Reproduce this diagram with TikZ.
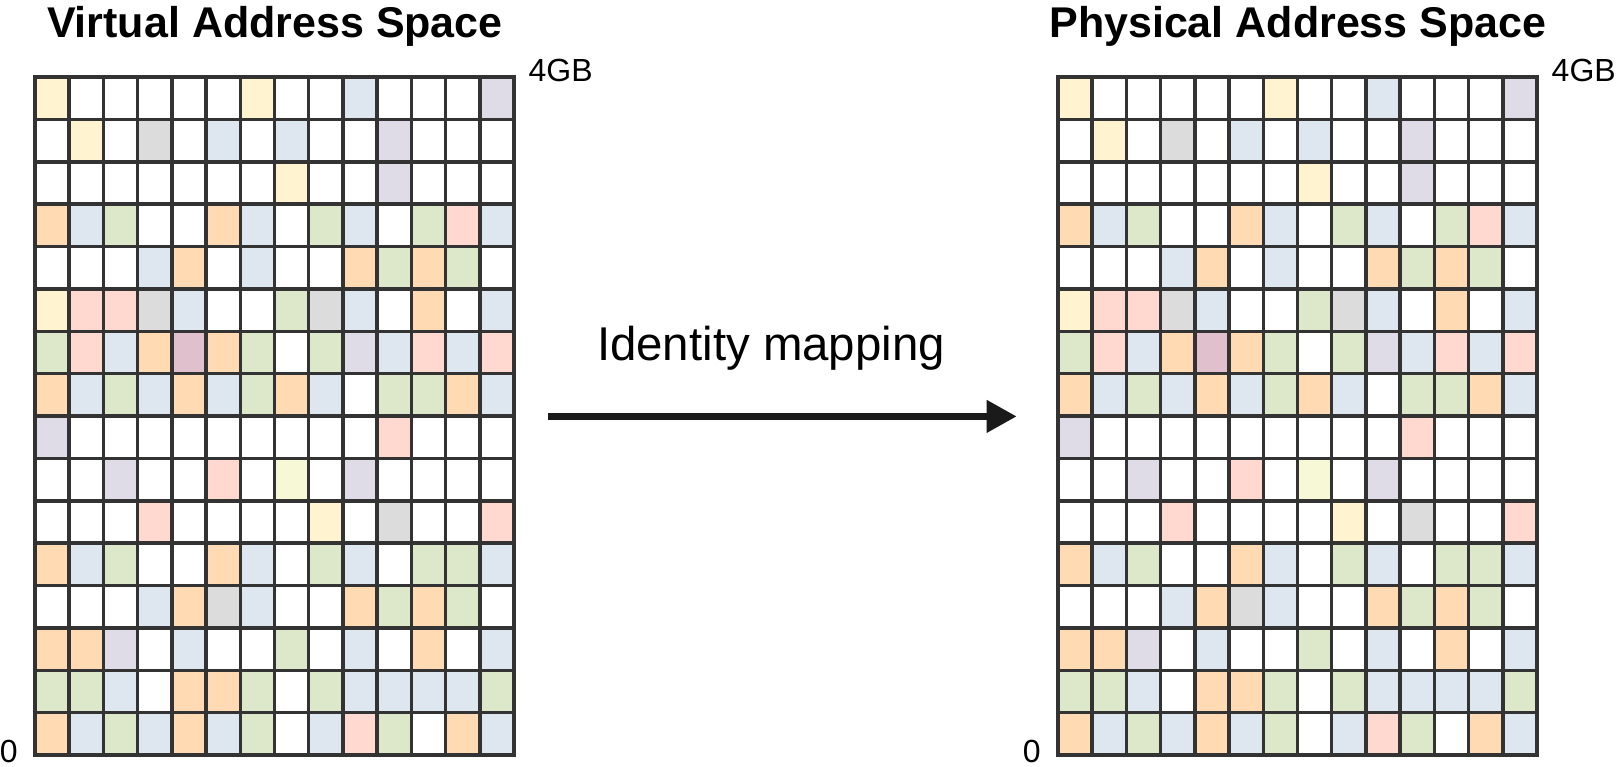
\documentclass[tikz,border=0pt]{standalone}
\usepackage{fontspec}
\setmainfont{Liberation Sans}
\usetikzlibrary{arrows.meta,positioning,calc}

\definecolor{cW}{HTML}{FFFFFF}
\definecolor{cY}{HTML}{FFF4CF}
\definecolor{cB}{HTML}{DEE6F0}
\definecolor{cG}{HTML}{DDE7CA}
\definecolor{cO}{HTML}{FFDAB2}
\definecolor{cR}{HTML}{FFD8D0}
\definecolor{cL}{HTML}{DFDCE8}
\definecolor{cD}{HTML}{DCDCDC}
\definecolor{cM}{HTML}{E0C0CC}
\definecolor{cV}{HTML}{F6F8D6}
\definecolor{gridgray}{HTML}{333333}
\definecolor{arrowblack}{HTML}{1A1A1A}

\begin{document}
\begin{tikzpicture}[x=0.5pt, y=-0.5pt]
        \tikzstyle{space} = [rectangle, inner sep=0pt, minimum width=239.5pt, minimum height=339pt, anchor=north west]
        \tikzstyle{cell} = [draw=gridgray, line width=1.75pt]
        \tikzstyle{title} = [font=\bfseries\fontsize{21.5}{24}\selectfont, anchor=base]
        \tikzstyle{bound} = [font=\fontsize{16}{18}\selectfont, inner sep=0pt]
        \tikzstyle{line} = [draw=arrowblack, line width=3.5pt, -{Triangle[length=15pt,width=15.5pt]}]

        \useasboundingbox (0,0) rectangle (1617,766);

        \node [space] (virt) at (35,77) {};
        \node [space] (phys) at (1058,77) {};

        % same pages on both sides
        \foreach \g in {virt,phys} {
            \foreach \row [count=\r from 0] in {
                {Y,W,W,W,W,W,Y,W,W,B,W,W,W,L},
                {W,Y,W,D,W,B,W,B,W,W,L,W,W,W},
                {W,W,W,W,W,W,W,Y,W,W,L,W,W,W},
                {O,B,G,W,W,O,B,W,G,B,W,G,R,B},
                {W,W,W,B,O,W,B,W,W,O,G,O,G,W},
                {Y,R,R,D,B,W,W,G,D,B,W,O,W,B},
                {G,R,B,O,M,O,G,W,G,L,B,R,B,R},
                {O,B,G,B,O,B,G,O,B,W,G,G,O,B},
                {L,W,W,W,W,W,W,W,W,W,R,W,W,W},
                {W,W,L,W,W,R,W,V,W,L,W,W,W,W},
                {W,W,W,R,W,W,W,W,Y,W,D,W,W,R},
                {O,B,G,W,W,O,B,W,G,B,W,G,G,B},
                {W,W,W,B,O,D,B,W,W,O,G,O,G,W},
                {O,O,L,W,B,W,W,G,W,B,W,O,W,B},
                {G,G,B,W,O,O,G,W,G,B,B,B,B,G},
                {O,B,G,B,O,B,G,W,B,R,G,W,O,B}} {
                \foreach \c [count=\k from 0] in \row {
                    \draw [cell, fill=c\c] ($(\g.north west)+(\k*34.214,\r*42.375)$) rectangle ++(34.214,42.375);
                }
            }
        }

        \node [title] (vtitle) at ([yshift=20pt]virt.north) {Virtual Address Space};
        \node [title] (ptitle) at ([yshift=20pt]phys.north) {Physical Address Space};

        \node [bound, anchor=base west] (vtop) at ([xshift=6.75pt, yshift=-2pt]virt.north east) {4GB};
        \node [bound, anchor=base west] (ptop) at ([xshift=6.75pt, yshift=-2pt]phys.north east) {4GB};
        \node [bound, anchor=base east] (vzero) at ([xshift=-8.5pt, yshift=-3.5pt]virt.south west) {0};
        \node [bound, anchor=base east] (pzero) at ([xshift=-8.5pt, yshift=-3.5pt]phys.south west) {0};

        \node [font=\fontsize{23.7}{26}\selectfont, anchor=base] (maplabel) at (771,360.7) {Identity mapping};

        \path [line, shorten <=16.35pt, shorten >=20.65pt] (virt.east) -- (phys.west);
    \end{tikzpicture}
\end{document}
